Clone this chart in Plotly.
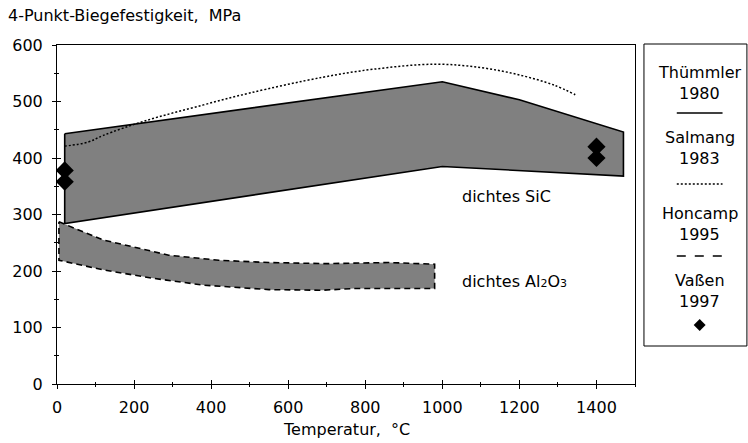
import plotly.graph_objects as go

# ---------------- data ----------------
sic_upper_T = [20, 1000, 1200, 1470]
sic_upper = [443, 535, 503, 446]
sic_lower_T = [20, 1000, 1470]
sic_lower = [284, 385, 368]

al_upper_T = [5, 120, 290, 420, 550, 700, 860, 980]
al_upper = [287, 255, 228, 219, 215, 213, 215, 212]
al_lower_T = [5, 120, 250, 380, 550, 690, 770, 980]
al_lower = [219, 202, 187, 175, 167, 166, 169, 169]

salmang_T = [20, 80, 120, 230, 380, 500, 690, 820, 980, 1100, 1200, 1290, 1345]
salmang = [421, 428, 440, 466, 494, 515, 543, 557, 566, 560, 547, 529, 512]

vassen_T = [20, 20, 1400, 1400]
vassen = [378, 358, 420, 400]

legend_names = ["Thümmler", "Salmang", "Honcamp", "Vaßen"]
legend_years = ["1980", "1983", "1995", "1997"]

x_ticks = [0, 200, 400, 600, 800, 1000, 1200, 1400]
y_ticks = [0, 100, 200, 300, 400, 500, 600]

# ---------------- layout geometry ----------------
W, H = 748, 443
ML, MR, MT, MB = 54, 113, 45, 59
PW, PH = W - ML - MR, H - MT - MB
FONT = "DejaVu Sans, Liberation Sans, Arial, sans-serif"
FS = 16
GRAY = "#808080"


def px(x):
    return (x - ML) / PW


def py(y):
    return (H - MB - y) / PH


fig = go.Figure()

# SiC band (Thümmler 1980)
fig.add_trace(go.Scatter(
    x=sic_upper_T + sic_lower_T[::-1] + [sic_upper_T[0]],
    y=sic_upper + sic_lower[::-1] + [sic_upper[0]],
    mode="lines", fill="toself", fillcolor=GRAY,
    line=dict(color="black", width=1.6), hoverinfo="skip", showlegend=False))

# Al2O3 band (Honcamp 1995)
fig.add_trace(go.Scatter(
    x=al_upper_T + al_lower_T[::-1] + [al_upper_T[0]],
    y=al_upper + al_lower[::-1] + [al_upper[0]],
    mode="lines", fill="toself", fillcolor=GRAY,
    line=dict(color="black", width=1.6, dash="6px,4px"), hoverinfo="skip", showlegend=False))

# Salmang 1983 dotted
fig.add_trace(go.Scatter(
    x=salmang_T, y=salmang, mode="lines",
    line=dict(color="black", width=1.5, dash="2px,2px", shape="spline"),
    hoverinfo="skip", showlegend=False))

# Vaßen 1997 diamonds
fig.add_trace(go.Scatter(
    x=vassen_T, y=vassen, mode="markers",
    marker=dict(symbol="diamond", size=14, color="black"),
    hoverinfo="skip", showlegend=False))

axis_common = dict(showgrid=False, zeroline=False)

fig.update_layout(
    width=W, height=H,
    margin=dict(l=ML, r=MR, t=MT, b=MB),
    paper_bgcolor="white", plot_bgcolor="white",
    font=dict(family=FONT, size=FS, color="black"),
    xaxis=dict(range=[0, 1500], tickvals=x_ticks, ticks="outside", ticklen=4,
               tickcolor="black", showline=True, linecolor="black", linewidth=1,
               mirror=True, ticklabelstandoff=5,
               minor=dict(dtick=100, ticks="outside", ticklen=2, tickcolor="black"),
               **axis_common),
    yaxis=dict(range=[0, 600], tickvals=y_ticks, ticks="outside", ticklen=4,
               tickcolor="black", showline=True, linecolor="black", linewidth=1,
               mirror=True, ticklabelstandoff=6,
               minor=dict(dtick=50, ticks="outside", ticklen=2, tickcolor="black"),
               **axis_common),
    xaxis2=dict(range=[0, 1500], overlaying="x", anchor="y", side="bottom",
                tickvals=x_ticks, ticks="inside", ticklen=4, tickcolor="black",
                showticklabels=False, showline=False,
                minor=dict(dtick=100, ticks="inside", ticklen=2, tickcolor="black"),
                **axis_common),
    yaxis2=dict(range=[0, 600], overlaying="y", anchor="x", side="left",
                tickvals=y_ticks, ticks="inside", ticklen=4, tickcolor="black",
                showticklabels=False, showline=False,
                minor=dict(dtick=50, ticks="inside", ticklen=2, tickcolor="black"),
                **axis_common),
)

# dummy trace so overlay axes get drawn
fig.add_trace(go.Scatter(x=[None], y=[None], xaxis="x2", yaxis="y2",
                         showlegend=False, hoverinfo="skip"))

annotations = [
    dict(text="4-Punkt-Biegefestigkeit,  MPa", x=px(3), y=py(15), xanchor="left",
         yanchor="middle"),
    dict(text="Temperatur,  °C", x=0.5, y=py(430), xanchor="center", yanchor="middle"),
    dict(text="dichtes SiC", x=1045, y=331, xref="x", yref="y", xanchor="left",
         yanchor="middle"),
    dict(text="dichtes Al<span style='font-size:11px'>2</span>O<span style='font-size:11px'>3</span>",
         x=1045, y=181, xref="x", yref="y", xanchor="left", yanchor="middle"),
]

leg_cx = 700
name_y = [72, 137, 213, 280]
year_y = [93, 158, 234, 301]
for n, yr, ny, yy in zip(legend_names, legend_years, name_y, year_y):
    annotations.append(dict(text=n, x=px(leg_cx), y=py(ny), xanchor="center", yanchor="middle"))
    annotations.append(dict(text=yr, x=px(leg_cx), y=py(yy), xanchor="center", yanchor="middle"))

for a in annotations:
    a.setdefault("xref", "paper")
    a.setdefault("yref", "paper")
    a["showarrow"] = False
    a["font"] = dict(family=FONT, size=FS, color="black")

shapes = [
    dict(type="rect", xref="paper", yref="paper", x0=px(644), x1=px(747.5),
         y0=py(346), y1=py(44), line=dict(color="black", width=1), fillcolor="rgba(0,0,0,0)"),
    dict(type="line", xref="paper", yref="paper", x0=px(677), x1=px(723),
         y0=py(113), y1=py(113), line=dict(color="black", width=1.6)),
    dict(type="line", xref="paper", yref="paper", x0=px(677), x1=px(723),
         y0=py(184), y1=py(184), line=dict(color="black", width=1.3, dash="2px,2px")),
    dict(type="line", xref="paper", yref="paper", x0=px(677), x1=px(723),
         y0=py(256), y1=py(256), line=dict(color="black", width=1.6, dash="9px,9px")),
]
dcx, dcy, r = 700, 325, 6
path = "M {x0} {y0} L {x1} {y1} L {x2} {y2} L {x3} {y3} Z".format(
    x0=px(dcx), y0=py(dcy - r), x1=px(dcx + r), y1=py(dcy),
    x2=px(dcx), y2=py(dcy + r), x3=px(dcx - r), y3=py(dcy))
shapes.append(dict(type="path", xref="paper", yref="paper", path=path,
                   fillcolor="black", line=dict(color="black", width=0)))

fig.update_layout(annotations=annotations, shapes=shapes)

fig.write_html("out.html")
